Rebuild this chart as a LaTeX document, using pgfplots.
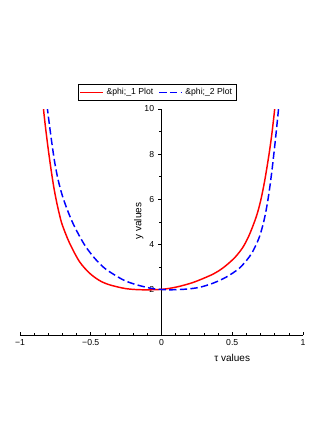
\documentclass[border=0pt]{standalone}
\usepackage{fontspec}
\setmainfont{Liberation Sans}
\usepackage{pgfplots}
\pgfplotsset{compat=1.18}
\begin{document}
\begin{tikzpicture}
\path[use as bounding box] (-15pt,-71.25pt) rectangle (234pt,251.25pt);
\begin{axis}[
    at={(0,0)}, anchor=south west,
    scale only axis,
    width=212.25pt, height=169.5pt,
    xmin=-1, xmax=1, ymin=0, ymax=10,
    axis lines=middle,
    axis line style={-, black, line width=0.6pt},
    xtick={-1,-0.5,0,0.5,1},
    xticklabels={−1,−0.5,0,0.5,1},
    ytick={2,4,6,8,10},
    minor x tick num=4,
    minor y tick num=1,
    hide obscured x ticks=false,
    tick align=inside,
    major tick length=2.6pt,
    minor tick length=1.6pt,
    tick style={black, line width=0.5pt},
    major y tick style={xshift=-2.6pt},
    minor y tick style={xshift=-1.6pt},
    tick label style={font=\fontsize{6.5}{7.5}\selectfont},
    /pgf/number format/assume math mode=true,
    yticklabel style={xshift=-2pt},
    xlabel={τ values},
    ylabel={y values},
    every axis x label/.style={at={(axis description cs:0.75,0)}, anchor=center,
        yshift=-17pt, font=\fontsize{7.5}{9}\selectfont},
    every axis y label/.style={at={(axis description cs:0.42,0.504)}, anchor=center,
        rotate=90, font=\fontsize{7.5}{9}\selectfont},
    legend columns=-1,
    legend style={at={(axis description cs:0.485,1.035)}, anchor=south,
        draw=black, line width=0.6pt, inner sep=1pt,
        font=\fontsize{6.5}{7.5}\selectfont,
        /tikz/every even column/.append style={column sep=2pt}},
    legend image code/.code={\draw[#1] (0pt,0pt) -- (17pt,0pt);},
]
% phi_1 (red, solid)
\addplot[red, line width=1.1pt, smooth] coordinates {
    (-0.845,10.8) (-0.834,10.0) (-0.820,9.20) (-0.800,8.20) (-0.780,7.30)
    (-0.760,6.50) (-0.740,5.85) (-0.720,5.30) (-0.700,4.85) (-0.650,4.07)
    (-0.580,3.25) (-0.509,2.74) (-0.438,2.41) (-0.367,2.22) (-0.250,2.05)
    (-0.130,2.00) (0.000,2.02) (0.104,2.12) (0.221,2.32) (0.339,2.62)
    (0.400,2.82) (0.457,3.08) (0.520,3.44) (0.575,3.88) (0.620,4.42)
    (0.669,5.22) (0.700,5.92) (0.730,6.85) (0.760,8.00) (0.780,8.90)
    (0.800,10.0) (0.812,10.8)
};
\addlegendentry{\&phi;\_1 Plot}
% phi_2 (blue, dashed)
\addplot[blue, line width=1.1pt, dash pattern=on 5.5pt off 2.5pt, smooth] coordinates {
    (-0.816,10.6) (-0.806,10.0) (-0.792,9.30) (-0.775,8.50) (-0.755,7.65)
    (-0.730,6.85) (-0.700,6.15) (-0.660,5.45) (-0.615,4.80) (-0.544,3.99)
    (-0.473,3.40) (-0.403,2.96) (-0.332,2.66) (-0.261,2.41) (-0.191,2.25)
    (-0.120,2.13) (-0.049,2.04) (0.057,2.00) (0.174,2.03) (0.269,2.11)
    (0.363,2.29) (0.457,2.56) (0.551,2.96) (0.622,3.47) (0.660,3.88)
    (0.693,4.36) (0.720,4.95) (0.740,5.54) (0.760,6.30) (0.780,7.25)
    (0.800,8.35) (0.815,9.25) (0.827,10.0) (0.835,10.55)
};
\addlegendentry{\&phi;\_2 Plot}
\end{axis}
\end{tikzpicture}
\end{document}
